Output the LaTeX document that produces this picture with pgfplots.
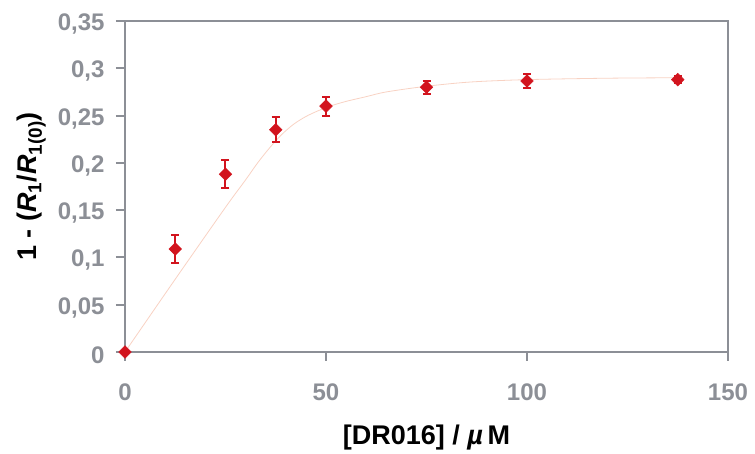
\documentclass[border=0pt]{standalone}
\usepackage{fontspec}
\setmainfont{Liberation Sans}
\usepackage{pgfplots}
\pgfplotsset{compat=1.18}
\definecolor{axgray}{RGB}{140,143,150}
\definecolor{ptred}{RGB}{210,20,30}
\definecolor{fitpink}{RGB}{248,210,195}
\begin{document}
\begin{tikzpicture}
\begin{axis}[
  scale only axis,
  width=603pt, height=331pt,
  xmin=0, xmax=150, ymin=0, ymax=0.35,
  xtick={0,50,100,150},
  ytick={0,0.05,0.1,0.15,0.2,0.25,0.3,0.35},
  yticklabels={0,{0,05},{0,1},{0,15},{0,2},{0,25},{0,3},{0,35}},
  xtick pos=bottom, ytick pos=left,
  tick align=outside,
  major tick length=9pt,
  axis line style={axgray, line width=2.5pt},
  every tick/.style={axgray, line width=2pt},
  /pgf/number format/assume math mode=true,
  tick label style={font=\fontsize{24}{27}\selectfont\bfseries, text=axgray},
  xticklabel style={yshift=-19pt},
  yticklabel style={xshift=-8pt, yshift=-3pt},
  xlabel={\textbf{[DR016] / \textit{µ}\,M}},
  ylabel={\textbf{1 - (\textit{R}\textsubscript{1}/\textit{R}\textsubscript{1(0)})}},
  label style={font=\fontsize{27}{30}\selectfont},
  xlabel style={yshift=-18pt},
  ylabel style={yshift=5pt},
  clip=false,
]
\addplot[fitpink, line width=0.8pt, smooth] coordinates {
  (0,0) (12.5,0.077) (25,0.153) (30,0.182) (33,0.200) (36,0.216) (39,0.230)
  (42,0.241) (45,0.249) (48,0.255) (51,0.260) (55,0.265) (60,0.270) (65,0.275)
  (75,0.281) (86,0.2855) (100,0.288) (120,0.2895) (137.5,0.29)
};
\addplot[ptred, only marks, mark=square*, mark size=4.5pt,
  mark options={rotate=45, fill=ptred, draw=ptred},
  error bars/.cd, y dir=both, y explicit,
  error bar style={ptred, line width=2pt},
  error mark options={rotate=90, mark size=4pt, line width=2pt, ptred}]
  table[x=x, y=y, y error=e] {
  x y e
  0 0 0
  12.5 0.109 0.015
  25 0.188 0.015
  37.5 0.235 0.013
  50 0.260 0.010
  75 0.280 0.007
  100 0.2865 0.007
  137.5 0.288 0.004
};
\end{axis}
\pgfresetboundingbox
\path[use as bounding box] (-125pt,-102pt) rectangle (630pt,352pt);
\end{tikzpicture}
\end{document}
